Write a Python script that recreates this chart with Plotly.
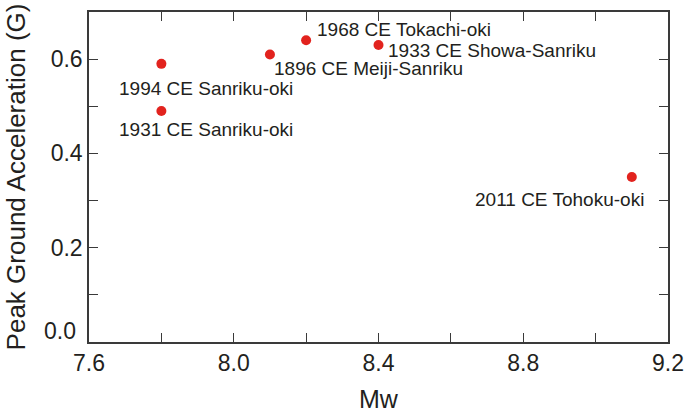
import plotly.graph_objects as go

# Data
events = ["1994 CE Sanriku-oki", "1931 CE Sanriku-oki", "1896 CE Meiji-Sanriku",
          "1968 CE Tokachi-oki", "1933 CE Showa-Sanriku", "2011 CE Tohoku-oki"]
mw = [7.8, 7.8, 8.1, 8.2, 8.4, 9.1]
pga = [0.59, 0.49, 0.61, 0.64, 0.63, 0.35]
x_ticks = [7.6, 8.0, 8.4, 8.8, 9.2]
y_ticks = [0.0, 0.2, 0.4, 0.6]

# label placement (style only)
label_style = {
    "1994 CE Sanriku-oki": dict(xanchor="left", xshift=-44, yshift=-25),
    "1931 CE Sanriku-oki": dict(xanchor="left", xshift=-44, yshift=-18.5),
    "1896 CE Meiji-Sanriku": dict(xanchor="left", xshift=2, yshift=-14),
    "1968 CE Tokachi-oki": dict(xanchor="left", xshift=9, yshift=11),
    "1933 CE Showa-Sanriku": dict(xanchor="left", xshift=7, yshift=-5),
    "2011 CE Tohoku-oki": dict(xanchor="right", xshift=14, yshift=-22.7),
}

FONT = "Arial, Liberation Sans, Helvetica, sans-serif"
TXT = "#231f20"
AX = "#3a3a3a"
TICKFONT = dict(family=FONT, size=23, color=TXT)

fig = go.Figure()
fig.add_trace(go.Scatter(
    x=mw, y=pga, mode="markers",
    marker=dict(color="#e2231e", size=10, line=dict(width=0)),
    showlegend=False, hoverinfo="skip"))

for name, x, y in zip(events, mw, pga):
    st = label_style[name]
    fig.add_annotation(x=x, y=y, text=name, showarrow=False,
                       xanchor=st["xanchor"], yanchor="middle",
                       xshift=st["xshift"], yshift=st["yshift"],
                       font=dict(family=FONT, size=19, color=TXT))

# the "0.0" label sits slightly above the baseline in the reference
fig.add_annotation(xref="paper", x=0, y=y_ticks[0], text=f"{y_ticks[0]:.1f}",
                   showarrow=False, xanchor="right", yanchor="middle",
                   xshift=-11, yshift=11, font=TICKFONT)

axis_common = dict(
    showgrid=False, zeroline=False, showline=True, linecolor=AX, linewidth=1.5,
    mirror="ticks", ticks="inside", ticklen=9, tickwidth=1.3, tickcolor=AX,
    tickfont=TICKFONT,
)

fig.update_xaxes(range=[7.6, 9.2], tickvals=x_ticks,
                 ticktext=[f"{v:.1f}" for v in x_ticks],
                 minor=dict(dtick=0.2, tick0=7.6, ticks="inside", ticklen=9, tickwidth=1.3, tickcolor=AX),
                 title=dict(text="Mw", font=dict(family=FONT, size=25, color=TXT), standoff=15),
                 **axis_common)
fig.update_yaxes(range=[0, 0.7], tickvals=y_ticks,
                 ticktext=[""] + [f"{v:.1f}" for v in y_ticks[1:]],
                 minor=dict(dtick=0.1, tick0=0, ticks="inside", ticklen=9, tickwidth=1.3, tickcolor=AX),
                 title=dict(text="Peak Ground Acceleration (G)", font=dict(family=FONT, size=26, color=TXT), standoff=18),
                 **axis_common)

fig.update_layout(
    width=685, height=413,
    margin=dict(l=89, r=17, t=12, b=71, autoexpand=False),
    plot_bgcolor="white", paper_bgcolor="white",
    font=dict(family=FONT, color=TXT),
)

fig.write_html("out.html", config={"displayModeBar": False},
               post_script="document.body.style.margin='0px';document.body.style.overflow='hidden';")
